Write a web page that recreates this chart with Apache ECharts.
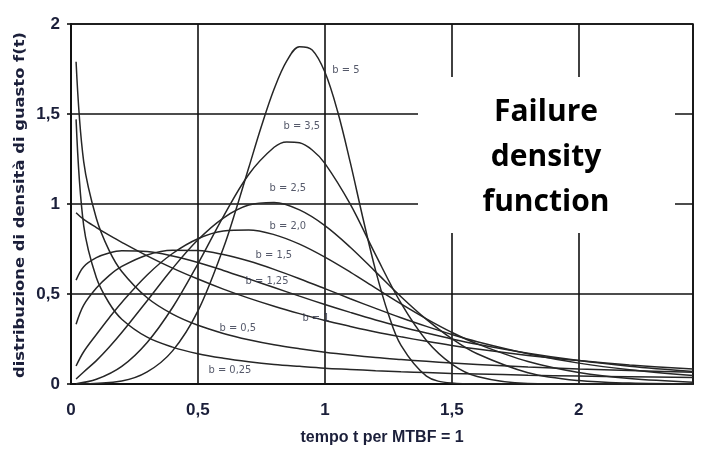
<!DOCTYPE html>
<html>
<head>
<meta charset="utf-8">
<script src="https://cdn.jsdelivr.net/npm/echarts@6/dist/echarts.min.js"></script>
<style>
  html, body { margin: 0; padding: 0; background: #fff; }
  #chart { width: 701px; height: 462px; }
</style>
</head>
<body>
<div id="chart"></div>
<script>
// Weibull failure densities f(t) for several shape factors b (time in MTBF units)
const tGrid = [0.02, 0.05, 0.1, 0.15, 0.2, 0.3, 0.4, 0.5, 0.6, 0.7, 0.8, 0.9, 1.0, 1.1, 1.2, 1.3, 1.4, 1.5, 1.6, 1.8, 2.0, 2.2, 2.45];
const fB025 = [1.47, 0.88, 0.59, 0.45, 0.36, 0.26, 0.205, 0.168, 0.143, 0.124, 0.109, 0.098, 0.088, 0.081, 0.074, 0.068, 0.064, 0.059, 0.056, 0.049, 0.044, 0.040, 0.036];
const fB05  = [1.79, 1.235, 0.919, 0.742, 0.625, 0.479, 0.388, 0.326, 0.281, 0.246, 0.218, 0.196, 0.177, 0.161, 0.147, 0.136, 0.126, 0.117, 0.109, 0.095, 0.084, 0.075, 0.065];
const fB1   = [0.951, 0.914, 0.869, 0.827, 0.787, 0.712, 0.644, 0.583, 0.527, 0.477, 0.432, 0.391, 0.353, 0.320, 0.289, 0.262, 0.237, 0.214, 0.194, 0.159, 0.130, 0.106, 0.083];
const fB125 = [0.577, 0.652, 0.702, 0.728, 0.740, 0.736, 0.711, 0.675, 0.631, 0.584, 0.536, 0.488, 0.442, 0.398, 0.356, 0.318, 0.283, 0.250, 0.221, 0.171, 0.130, 0.099, 0.069];
const fB15  = [0.332, 0.438, 0.533, 0.602, 0.653, 0.717, 0.743, 0.741, 0.719, 0.683, 0.637, 0.585, 0.530, 0.474, 0.420, 0.368, 0.320, 0.275, 0.235, 0.168, 0.116, 0.079, 0.047];
const fB2   = [0.100, 0.179, 0.275, 0.367, 0.453, 0.606, 0.725, 0.807, 0.850, 0.856, 0.830, 0.777, 0.705, 0.622, 0.533, 0.445, 0.362, 0.287, 0.223, 0.125, 0.064, 0.030, 0.010];
const fB25  = [0.028, 0.067, 0.130, 0.204, 0.286, 0.463, 0.642, 0.801, 0.922, 0.994, 1.008, 0.967, 0.880, 0.760, 0.623, 0.485, 0.359, 0.252, 0.168, 0.063, 0.019, 0.005, 0.001];

// the two peaked curves use a finer time step around their maximum
const tB35 = [0.02, 0.1, 0.2, 0.3, 0.4, 0.5, 0.6, 0.7, 0.8, 0.85, 0.9, 0.95, 1.0, 1.1, 1.2, 1.3, 1.4, 1.5, 1.6, 1.8, 2.0, 2.45];
const fB35 = [0.002, 0.026, 0.098, 0.231, 0.425, 0.668, 0.930, 1.164, 1.315, 1.345, 1.340, 1.300, 1.226, 0.999, 0.717, 0.449, 0.242, 0.111, 0.042, 0.003, 0, 0];
const tB5 = [0.02, 0.2, 0.3, 0.4, 0.5, 0.6, 0.65, 0.7, 0.75, 0.8, 0.85, 0.9, 0.95, 1.0, 1.05, 1.1, 1.15, 1.2, 1.25, 1.3, 1.4, 1.5, 1.6, 2.0, 2.45];
const fB5 = [0, 0.017, 0.067, 0.184, 0.406, 0.754, 0.969, 1.201, 1.432, 1.639, 1.795, 1.874, 1.856, 1.733, 1.515, 1.231, 0.921, 0.630, 0.389, 0.214, 0.044, 0.005, 0, 0, 0];

// curve tags and the (t, f) spot where each is written
const tagText = ['b = 5', 'b = 3,5', 'b = 2,5', 'b = 2,0', 'b = 1,5', 'b = 1,25', 'b = 1', 'b = 0,5', 'b = 0,25'];
const tagT = [1.083, 0.909, 0.854, 0.854, 0.799, 0.772, 0.965, 0.657, 0.626];
const tagF = [1.744, 1.433, 1.089, 0.878, 0.717, 0.572, 0.367, 0.311, 0.078];

const xTicks = [0, 0.5, 1, 1.5, 2];
const yTicks = [0, 0.5, 1, 1.5, 2];

const yTitle = 'distribuzione di densità di guasto f(t)';
const xTitle = 'tempo t per MTBF = 1';

const sans = "'Liberation Sans', Arial, sans-serif";
const narrow = "'Liberation Sans Narrow', 'DejaVu Sans Condensed', sans-serif";
const inkLabel = '#1b1f3a';
const comma = v => String(v).replace('.', ',');

const pairs = (xs, ys) => xs.map((x, i) => [x, ys[i]]);
const curves = [
  pairs(tGrid, fB025), pairs(tGrid, fB05), pairs(tGrid, fB1), pairs(tGrid, fB125),
  pairs(tGrid, fB15), pairs(tGrid, fB2), pairs(tGrid, fB25), pairs(tB35, fB35), pairs(tB5, fB5)
];

const lineSeries = curves.map(d => ({
  type: 'line',
  data: d,
  smooth: 0.35,
  showSymbol: false,
  silent: true,
  lineStyle: { color: '#262626', width: 1.5 },
  z: 3
}));

const tagSeries = {
  type: 'scatter',
  data: tagText.map((s, i) => [tagT[i], tagF[i], s]),
  symbolSize: 0,
  silent: true,
  z: 4,
  label: {
    show: true,
    position: 'inside',
    formatter: p => p.data[2],
    fontFamily: narrow,
    fontSize: 11,
    color: '#2b2f45'
  }
};

// vertical title: bold 14px, stretched along its length to span the plot height
const titleFont = "bold 14px 'DejaVu Sans'";
const probe = document.createElement('canvas').getContext('2d');
probe.font = titleFont;
const titleStretch = 346 / probe.measureText(yTitle).width;

const chart = echarts.init(document.getElementById('chart'), null, { renderer: 'canvas' });
chart.setOption({
  animation: false,
  backgroundColor: '#fff',
  grid: {
    left: 71, right: 8, top: 24, bottom: 78,
    show: true, borderColor: '#111', borderWidth: 1.6, backgroundColor: 'transparent'
  },
  xAxis: {
    type: 'value', min: 0, max: 2.45, interval: 0.5,
    name: xTitle,
    nameLocation: 'middle', nameGap: 46,
    nameTextStyle: { fontFamily: sans, fontWeight: 'bold', fontSize: 16, color: inkLabel },
    axisLine: { show: true, onZero: false, lineStyle: { color: '#111', width: 2 } },
    axisTick: { show: false },
    splitLine: { show: true, lineStyle: { color: '#111', width: 1.6 } },
    axisLabel: {
      margin: 18, fontFamily: sans, fontWeight: 'bold', fontSize: 17, color: inkLabel,
      formatter: v => xTicks.includes(v) ? comma(v) : ''
    }
  },
  yAxis: {
    type: 'value', min: 0, max: 2, interval: 0.5,
    axisLine: { show: true, lineStyle: { color: '#111', width: 2 } },
    axisTick: { show: true, length: 4, lineStyle: { color: '#111', width: 1.6 } },
    splitLine: { show: true, lineStyle: { color: '#111', width: 1.6 } },
    axisLabel: {
      margin: 11, fontFamily: sans, fontWeight: 'bold', fontSize: 17, color: inkLabel,
      formatter: v => yTicks.includes(v) ? comma(v) : ''
    }
  },
  series: [...lineSeries, tagSeries],
  graphic: [
    { type: 'text', x: 20, y: 205, rotation: Math.PI / 2, scaleX: titleStretch, silent: true,
      style: { text: yTitle, font: titleFont, fill: inkLabel, align: 'center', verticalAlign: 'middle' } },
    { type: 'rect', shape: { x: 418, y: 77, width: 257, height: 156 }, style: { fill: '#fff' }, z: 50, silent: true },
    { type: 'text', x: 546, y: 112, z: 51, silent: true,
      style: { text: 'Failure', fontFamily: "'Open Sans', sans-serif", fontWeight: 'bold', fontSize: 30, fill: '#000', align: 'center', verticalAlign: 'middle' } },
    { type: 'text', x: 546, y: 157, z: 51, silent: true,
      style: { text: 'density', fontFamily: "'Open Sans', sans-serif", fontWeight: 'bold', fontSize: 30, fill: '#000', align: 'center', verticalAlign: 'middle' } },
    { type: 'text', x: 546, y: 202, z: 51, silent: true,
      style: { text: 'function', fontFamily: "'Open Sans', sans-serif", fontWeight: 'bold', fontSize: 30, fill: '#000', align: 'center', verticalAlign: 'middle' } }
  ]
});
</script>
</body>
</html>
